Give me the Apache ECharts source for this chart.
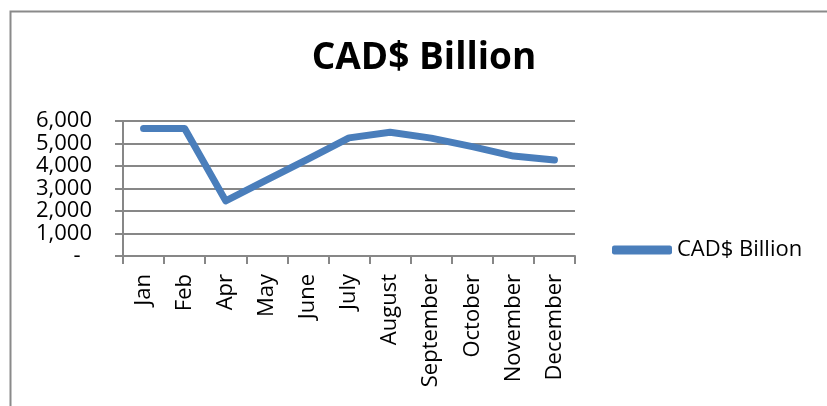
<!DOCTYPE html>
<html>
<head>
<meta charset="utf-8">
<script src="https://cdn.jsdelivr.net/npm/echarts@6/dist/echarts.min.js"></script>
<style>
  html, body {margin: 0; padding: 0; background: #fff;}
  #main {width: 827px; height: 406px;}
</style>
</head>
<body>
<div id="main"></div>
<script>
// months shown on the category axis (no March in the source)
const months = ['Jan', 'Feb', 'Apr', 'May', 'June', 'July', 'August', 'September', 'October', 'November', 'December'];
const cadBillion = [5670, 5670, 2450, 3380, 4310, 5250, 5500, 5240, 4860, 4440, 4270];
const seriesName = 'CAD$ Billion';

const font = 'Open Sans';
const gray = '#878787';

let chart = echarts.init(document.getElementById('main'));
chart.setOption({
    animation: false,
    title: {
        text: 'CAD$ Billion',
        left: 419, top: 35, textAlign: 'center',
        textStyle: {fontFamily: font, fontWeight: 'bold', fontSize: 37, color: '#000'}
    },
    graphic: [{
        type: 'rect', left: 8, top: 9,
        shape: {width: 840, height: 420},
        style: {fill: 'none', stroke: '#8a8a8a', lineWidth: 2}
    }],
    legend: {
        left: 612, top: 239, padding: 0,
        icon: 'roundRect', itemWidth: 60, itemHeight: 9, itemGap: 0,
        textStyle: {fontFamily: font, fontSize: 22, color: '#000'},
        data: [seriesName]
    },
    grid: {left: 123, right: 252, top: 121, bottom: 150, containLabel: false},
    xAxis: {
        type: 'category', data: months, boundaryGap: true,
        axisLine: {lineStyle: {color: gray, width: 2}},
        axisTick: {show: true, length: 8, inside: false, alignWithLabel: false, lineStyle: {color: gray, width: 2}},
        axisLabel: {
            rotate: 90, margin: 18, interval: 0,
            fontFamily: font, fontSize: 22, color: '#000'
        }
    },
    yAxis: {
        type: 'value', min: 0, max: 6000, interval: 1000,
        axisLine: {show: true, lineStyle: {color: gray, width: 2}},
        axisTick: {show: true, length: 8, lineStyle: {color: gray, width: 2}},
        splitLine: {lineStyle: {color: gray, width: 2}},
        axisLabel: {
            margin: 31, fontFamily: font, fontSize: 22, color: '#000',
            formatter: v => v === 0 ? '-  ' : v.toLocaleString('en-US')
        }
    },
    series: [{
        name: seriesName, type: 'line', data: cadBillion,
        symbol: 'none', smooth: false,
        lineStyle: {color: '#4a7ebb', width: 7, cap: 'round', join: 'round'},
        itemStyle: {color: '#4a7ebb'}
    }]
});
</script>
</body>
</html>
